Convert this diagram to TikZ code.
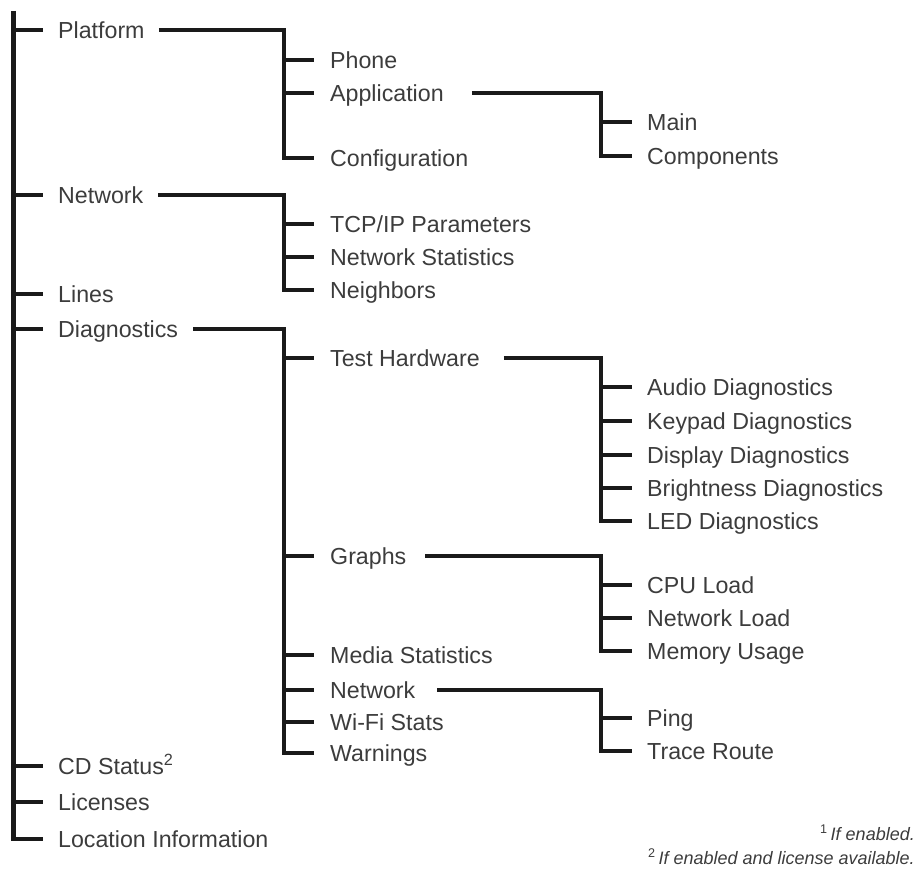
\documentclass[tikz,border=0pt]{standalone}
\usepackage{fontspec}
\setmainfont{Liberation Sans}
\definecolor{txt}{HTML}{3C3C3C}
\definecolor{ln}{HTML}{1A1A1A}
\begin{document}
\begin{tikzpicture}[x=1pt,y=-1pt,
  lbl/.style={anchor=west, inner sep=0pt, text=txt, font=\fontsize{23.2}{28}\selectfont, text height=16.6pt, text depth=0pt},
  conn/.style={draw=ln, line width=4.6pt, line cap=butt, line join=miter},
  fn/.style={anchor=base east, inner sep=0pt, text=txt, font=\fontsize{18}{22}\selectfont}]
\useasboundingbox (0,0) rectangle (918,875);

% labels
\node[lbl] (plat) at (58,30) {Platform};
\node[lbl] (phone) at (330,60) {Phone};
\node[lbl] (app) at (330,93) {Application};
\node[lbl] (main) at (647,122) {Main};
\node[lbl] (comp) at (647,156) {Components};
\node[lbl] (conf) at (330,158) {Configuration};
\node[lbl] (net) at (58,195) {Network};
\node[lbl] (tcp) at (330,224) {TCP/IP Parameters};
\node[lbl] (nstat) at (330,257) {Network Statistics};
\node[lbl] (neigh) at (330,290) {Neighbors};
\node[lbl] (lines) at (58,294) {Lines};
\node[lbl] (diag) at (58,329) {Diagnostics};
\node[lbl] (thw) at (330,358) {Test Hardware};
\node[lbl] (audio) at (647,387) {Audio Diagnostics};
\node[lbl] (keypad) at (647,421) {Keypad Diagnostics};
\node[lbl] (disp) at (647,455) {Display Diagnostics};
\node[lbl] (bright) at (647,488) {Brightness Diagnostics};
\node[lbl] (led) at (647,521) {LED Diagnostics};
\node[lbl] (graphs) at (330,556) {Graphs};
\node[lbl] (cpu) at (647,585) {CPU Load};
\node[lbl] (nload) at (647,618) {Network Load};
\node[lbl] (mem) at (647,651) {Memory Usage};
\node[lbl] (media) at (330,655) {Media Statistics};
\node[lbl] (dnet) at (330,690) {Network};
\node[lbl] (ping) at (647,718) {Ping};
\node[lbl] (trace) at (647,751) {Trace Route};
\node[lbl] (wifi) at (330,722) {Wi-Fi Stats};
\node[lbl] (warn) at (330,753) {Warnings};
\node[lbl] (cd) at (58,766) {CD Status\textsuperscript{2}};
\node[lbl] (lic) at (58,802) {Licenses};
\node[lbl] (loc) at (58,839) {Location Information};

% footnotes
\node[fn] (fn1) at (915,840) {\textsuperscript{1}\,\textit{If enabled.}};
\node[fn] (fn2) at (915,864) {\textsuperscript{2}\,\textit{If enabled and license available.}};

% trunk
\coordinate (top) at (13.5,11);
\draw[conn] (top) |- ([xshift=-15pt]loc.west);
\foreach \n in {plat,net,lines,diag,cd,lic}
  \draw[conn] (top |- \n.west) -- ([xshift=-15pt]\n.west);

% Platform
\draw[conn] ([xshift=14pt]plat.east) -| ([xshift=-46pt]conf.west) -- ([xshift=-16pt]conf.west);
\foreach \n in {phone,app}
  \draw[conn] ([xshift=-46pt]\n.west) -- ([xshift=-16pt]\n.west);

% Application
\draw[conn] ([xshift=28pt]app.east) -| ([xshift=-46pt]comp.west) -- ([xshift=-15pt]comp.west);
\draw[conn] ([xshift=-46pt]main.west) -- ([xshift=-15pt]main.west);

% Network
\draw[conn] ([xshift=15pt]net.east) -| ([xshift=-46pt]neigh.west) -- ([xshift=-16pt]neigh.west);
\foreach \n in {tcp,nstat}
  \draw[conn] ([xshift=-46pt]\n.west) -- ([xshift=-16pt]\n.west);

% Diagnostics
\draw[conn] ([xshift=15pt]diag.east) -| ([xshift=-46pt]warn.west) -- ([xshift=-16pt]warn.west);
\foreach \n in {thw,graphs,media,dnet,wifi}
  \draw[conn] ([xshift=-46pt]\n.west) -- ([xshift=-16pt]\n.west);

% Test Hardware
\draw[conn] ([xshift=24pt]thw.east) -| ([xshift=-46pt]led.west) -- ([xshift=-15pt]led.west);
\foreach \n in {audio,keypad,disp,bright}
  \draw[conn] ([xshift=-46pt]\n.west) -- ([xshift=-15pt]\n.west);

% Graphs
\draw[conn] ([xshift=19pt]graphs.east) -| ([xshift=-46pt]mem.west) -- ([xshift=-15pt]mem.west);
\foreach \n in {cpu,nload}
  \draw[conn] ([xshift=-46pt]\n.west) -- ([xshift=-15pt]\n.west);

% Diagnostics / Network
\draw[conn] ([xshift=22pt]dnet.east) -| ([xshift=-46pt]trace.west) -- ([xshift=-15pt]trace.west);
\draw[conn] ([xshift=-46pt]ping.west) -- ([xshift=-15pt]ping.west);
\end{tikzpicture}
\end{document}
